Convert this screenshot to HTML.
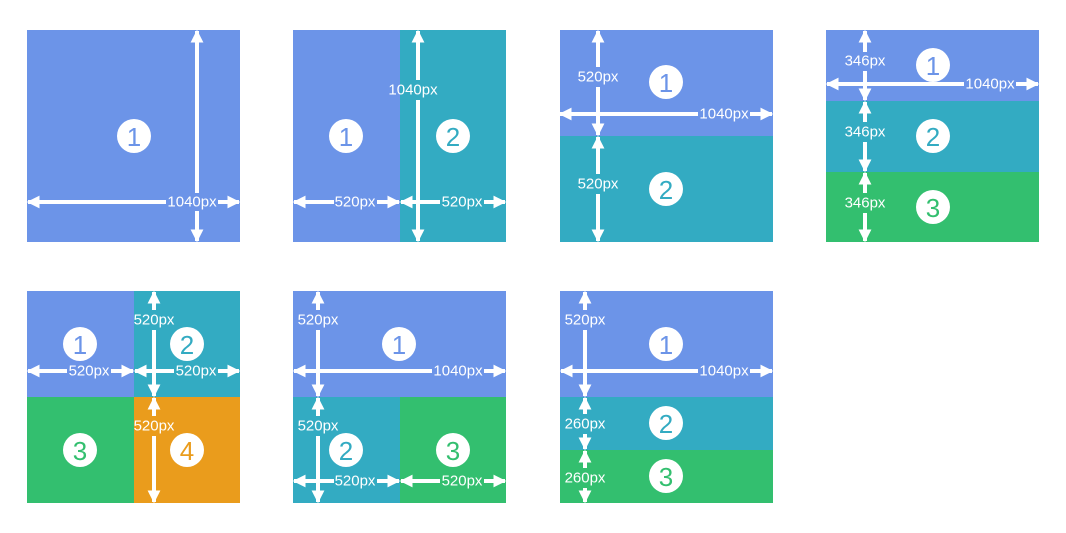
<!DOCTYPE html>
<html><head><meta charset="utf-8"><style>
html,body{margin:0;padding:0;background:#fff;width:1066px;height:533px;overflow:hidden}
svg{display:block}
text{font-family:"Liberation Sans","DejaVu Sans",sans-serif}
.l{fill:#fff;font-size:15px;text-anchor:middle;dominant-baseline:central}
.n{font-size:26px;text-anchor:middle;dominant-baseline:central}
line{stroke:#fff;stroke-width:4}
.s{marker-start:url(#a)}.e{marker-end:url(#a)}
</style></head><body>
<svg width="1066" height="533" viewBox="0 0 1066 533">
<defs><marker id="a" viewBox="0 0 10 10" refX="9" refY="5" markerWidth="13" markerHeight="16" markerUnits="userSpaceOnUse" orient="auto-start-reverse"><path d="M0,0L10,5L0,10z" fill="#fff"/></marker></defs>
<!-- P1 -->
<rect x="27" y="30" width="213" height="212" fill="#6C94E8"/>
<line class="s" x1="28" y1="202" x2="166" y2="202"/><line class="e" x1="218" y1="202" x2="239" y2="202"/>
<line class="s" x1="197" y1="31" x2="197" y2="193"/><line class="e" x1="197" y1="211" x2="197" y2="241"/>
<text class="l" x="192" y="202">1040px</text>
<circle cx="134" cy="136" r="17" fill="#fff"/><text class="n" x="134" y="137" fill="#6C94E8">1</text>
<!-- P2 -->
<rect x="293" y="30" width="107" height="212" fill="#6C94E8"/><rect x="400" y="30" width="106" height="212" fill="#33ABC2"/>
<line class="s" x1="418" y1="31" x2="418" y2="80"/><line class="e" x1="418" y1="100" x2="418" y2="241"/>
<text class="l" x="413" y="90">1040px</text>
<line class="s" x1="294" y1="202" x2="334" y2="202"/><line class="e" x1="377" y1="202" x2="399" y2="202"/>
<text class="l" x="355" y="202">520px</text>
<line class="s" x1="401" y1="202" x2="440" y2="202"/><line class="e" x1="484" y1="202" x2="505" y2="202"/>
<text class="l" x="462" y="202">520px</text>
<circle cx="346" cy="136" r="17" fill="#fff"/><text class="n" x="346" y="137" fill="#6C94E8">1</text>
<circle cx="453" cy="136" r="17" fill="#fff"/><text class="n" x="453" y="137" fill="#33ABC2">2</text>
<!-- P3 -->
<rect x="560" y="30" width="213" height="106" fill="#6C94E8"/><rect x="560" y="136" width="213" height="106" fill="#33ABC2"/>
<line class="s" x1="560" y1="114" x2="698" y2="114"/><line class="e" x1="750" y1="114" x2="772" y2="114"/>
<text class="l" x="724" y="114">1040px</text>
<line class="s" x1="598" y1="31" x2="598" y2="67"/><line class="e" x1="598" y1="87" x2="598" y2="135"/>
<text class="l" x="598" y="77">520px</text>
<line class="s" x1="598" y1="137" x2="598" y2="174"/><line class="e" x1="598" y1="194" x2="598" y2="241"/>
<text class="l" x="598" y="184">520px</text>
<circle cx="666" cy="82" r="17" fill="#fff"/><text class="n" x="666" y="83" fill="#6C94E8">1</text>
<circle cx="666" cy="189" r="17" fill="#fff"/><text class="n" x="666" y="190" fill="#33ABC2">2</text>
<!-- P4 -->
<rect x="826" y="30" width="213" height="71" fill="#6C94E8"/><rect x="826" y="101" width="213" height="71" fill="#33ABC2"/><rect x="826" y="172" width="213" height="70" fill="#33BF6F"/>
<line class="s" x1="827" y1="84" x2="964" y2="84"/><line class="e" x1="1016" y1="84" x2="1038" y2="84"/>
<text class="l" x="990" y="84">1040px</text>
<line class="s" x1="865" y1="31" x2="865" y2="52"/><line class="e" x1="865" y1="71" x2="865" y2="100"/>
<text class="l" x="865" y="61">346px</text>
<line class="s" x1="865" y1="102" x2="865" y2="122"/><line class="e" x1="865" y1="142" x2="865" y2="171"/>
<text class="l" x="865" y="132">346px</text>
<line class="s" x1="865" y1="173" x2="865" y2="193"/><line class="e" x1="865" y1="213" x2="865" y2="241"/>
<text class="l" x="865" y="203">346px</text>
<circle cx="933" cy="65" r="17" fill="#fff"/><text class="n" x="933" y="66" fill="#6C94E8">1</text>
<circle cx="933" cy="136" r="17" fill="#fff"/><text class="n" x="933" y="137" fill="#33ABC2">2</text>
<circle cx="933" cy="207" r="17" fill="#fff"/><text class="n" x="933" y="208" fill="#33BF6F">3</text>
<!-- P5 -->
<rect x="27" y="291" width="107" height="106" fill="#6C94E8"/><rect x="134" y="291" width="106" height="106" fill="#33ABC2"/>
<rect x="27" y="397" width="107" height="106" fill="#33BF6F"/><rect x="134" y="397" width="106" height="106" fill="#EA9C1C"/>
<line class="s" x1="28" y1="371" x2="67" y2="371"/><line class="e" x1="111" y1="371" x2="133" y2="371"/>
<text class="l" x="89" y="371">520px</text>
<line class="s" x1="135" y1="371" x2="174" y2="371"/><line class="e" x1="218" y1="371" x2="239" y2="371"/>
<text class="l" x="196" y="371">520px</text>
<line class="s" x1="154" y1="292" x2="154" y2="310"/><line class="e" x1="154" y1="330" x2="154" y2="396"/>
<text class="l" x="154" y="320">520px</text>
<line class="s" x1="154" y1="398" x2="154" y2="416"/><line class="e" x1="154" y1="436" x2="154" y2="502"/>
<text class="l" x="154" y="426">520px</text>
<circle cx="80" cy="344" r="17" fill="#fff"/><text class="n" x="80" y="345" fill="#6C94E8">1</text>
<circle cx="187" cy="344" r="17" fill="#fff"/><text class="n" x="187" y="345" fill="#33ABC2">2</text>
<circle cx="80" cy="450" r="17" fill="#fff"/><text class="n" x="80" y="451" fill="#33BF6F">3</text>
<circle cx="187" cy="450" r="17" fill="#fff"/><text class="n" x="187" y="451" fill="#EA9C1C">4</text>
<!-- P6 -->
<rect x="293" y="291" width="213" height="106" fill="#6C94E8"/><rect x="293" y="397" width="107" height="106" fill="#33ABC2"/><rect x="400" y="397" width="106" height="106" fill="#33BF6F"/>
<line class="s" x1="294" y1="371" x2="432" y2="371"/><line class="e" x1="484" y1="371" x2="505" y2="371"/>
<text class="l" x="458" y="371">1040px</text>
<line class="s" x1="318" y1="292" x2="318" y2="310"/><line class="e" x1="318" y1="330" x2="318" y2="396"/>
<text class="l" x="318" y="320">520px</text>
<line class="s" x1="318" y1="398" x2="318" y2="416"/><line class="e" x1="318" y1="436" x2="318" y2="502"/>
<text class="l" x="318" y="426">520px</text>
<line class="s" x1="294" y1="481" x2="334" y2="481"/><line class="e" x1="377" y1="481" x2="399" y2="481"/>
<text class="l" x="355" y="481">520px</text>
<line class="s" x1="401" y1="481" x2="440" y2="481"/><line class="e" x1="484" y1="481" x2="505" y2="481"/>
<text class="l" x="462" y="481">520px</text>
<circle cx="399" cy="344" r="17" fill="#fff"/><text class="n" x="399" y="345" fill="#6C94E8">1</text>
<circle cx="346" cy="450" r="17" fill="#fff"/><text class="n" x="346" y="451" fill="#33ABC2">2</text>
<circle cx="453" cy="450" r="17" fill="#fff"/><text class="n" x="453" y="451" fill="#33BF6F">3</text>
<!-- P7 -->
<rect x="560" y="291" width="213" height="106" fill="#6C94E8"/><rect x="560" y="397" width="213" height="53" fill="#33ABC2"/><rect x="560" y="450" width="213" height="53" fill="#33BF6F"/>
<line class="s" x1="561" y1="371" x2="698" y2="371"/><line class="e" x1="750" y1="371" x2="772" y2="371"/>
<text class="l" x="724" y="371">1040px</text>
<line class="s" x1="585" y1="292" x2="585" y2="310"/><line class="e" x1="585" y1="330" x2="585" y2="396"/>
<text class="l" x="585" y="320">520px</text>
<line class="s" x1="585" y1="398" x2="585" y2="414"/><line class="e" x1="585" y1="434" x2="585" y2="449"/>
<text class="l" x="585" y="424">260px</text>
<line class="s" x1="585" y1="451" x2="585" y2="468"/><line class="e" x1="585" y1="488" x2="585" y2="502"/>
<text class="l" x="585" y="478">260px</text>
<circle cx="666" cy="344" r="17" fill="#fff"/><text class="n" x="666" y="345" fill="#6C94E8">1</text>
<circle cx="666" cy="423" r="17" fill="#fff"/><text class="n" x="666" y="424" fill="#33ABC2">2</text>
<circle cx="666" cy="476" r="17" fill="#fff"/><text class="n" x="666" y="477" fill="#33BF6F">3</text>
</svg>
</body></html>
